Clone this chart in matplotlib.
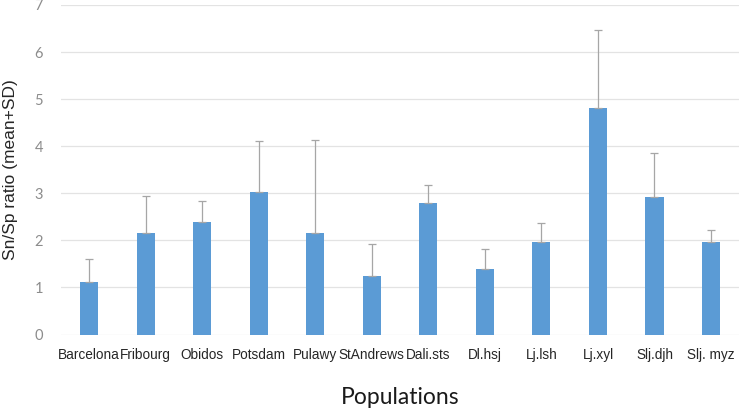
import numpy as np
import matplotlib.pyplot as plt

# Sn/Sp ratio per population (mean and SD)
populations = ['Barcelona', 'Fribourg', 'Obidos', 'Potsdam', 'Pulawy', 'StAndrews',
               'Dali.sts', 'Dl.hsj', 'Lj.lsh', 'Lj.xyl', 'Slj.djh', 'Slj. myz']
means = [1.11, 2.15, 2.40, 3.03, 2.16, 1.25, 2.79, 1.39, 1.96, 4.82, 2.92, 1.96]
sds = [0.49, 0.80, 0.43, 1.07, 1.98, 0.67, 0.38, 0.42, 0.40, 1.65, 0.94, 0.25]
yticks = [0, 1, 2, 3, 4, 5, 6, 7]

fig = plt.figure(figsize=(7.43, 4.11), dpi=100)
ax = fig.add_axes([0.082, 0.186, 0.913, 0.802])

x = np.arange(len(populations))
ax.bar(x, means, width=0.32, color='#5B9BD5', zorder=3)
ax.errorbar(x, means, yerr=[np.zeros(len(sds)), sds], fmt='none',
            ecolor='#A6A6A6', elinewidth=0.9, capsize=3, capthick=0.9, zorder=4)

ax.set_xlim(-0.5, len(populations) - 0.5)
ax.set_ylim(0, 7)
ax.set_yticks(yticks)
ax.yaxis.grid(True, color='#E3E3E3', linewidth=0.9, zorder=0)
ax.set_axisbelow(True)
for s in ax.spines.values():
    s.set_visible(False)
ax.tick_params(axis='both', length=0)
ax.tick_params(axis='y', colors='#8C8C8C', labelsize=10.5, pad=13)
ax.set_yticklabels([str(t) for t in yticks], family='Lato')

ax.set_xticks(x)
ax.set_xticklabels(populations, family='Liberation Sans', fontsize=9.8, color='#262626')
ax.tick_params(axis='x', pad=10)

ax.set_ylabel('Sn/Sp ratio (mean+SD)', family='Liberation Sans', fontsize=12.5,
              color='#262626')
ax.yaxis.set_label_coords(-0.064, 0.5)
ax.set_xlabel('Populations', family='Lato', fontsize=16.5, color='#1a1a1a')
ax.xaxis.set_label_coords(0.5, -0.16)

fig.savefig('out.png', dpi=100)
